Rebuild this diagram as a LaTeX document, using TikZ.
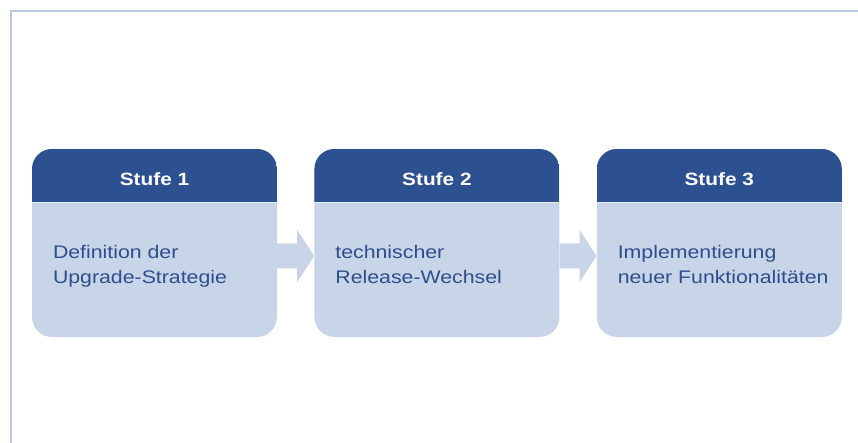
\documentclass[tikz,border=0pt]{standalone}
\usepackage{fontspec}
\setmainfont{Liberation Sans}
\newfontfamily\stagefont[FakeStretch=1.17]{Liberation Sans}
\usepackage{xcolor}
\usetikzlibrary{positioning}
\usetikzlibrary{calc}
\definecolor{headblue}{RGB}{44,80,144}
\definecolor{bodyblue}{RGB}{200,213,232}
\definecolor{textblue}{RGB}{45,78,140}
\definecolor{framegray}{RGB}{184,201,226}
\tikzset{
    stage_box/.style = {rectangle, rounded corners=20pt, fill=bodyblue, minimum width=245pt, minimum height=188pt, inner sep=0pt,
        path picture={
            \fill[headblue, sharp corners] (path picture bounding box.north west) rectangle ([yshift=-53pt]path picture bounding box.north east);
            \draw[white, sharp corners, line width=0.8pt, opacity=0.6] ([yshift=-53.4pt]path picture bounding box.north west) -- ([yshift=-53.4pt]path picture bounding box.north east);
        }},
    head_text/.style = {anchor=base, inner sep=0pt, white, font=\stagefont\bfseries\fontsize{17.8}{21}\selectfont},
    body_text/.style = {anchor=north west, align=left, inner sep=0pt, textblue, font=\stagefont\fontsize{18.2}{24.7}\selectfont},
    step_arrow/.style = {fill=bodyblue},
    frame_line/.style = {draw=framegray, line width=2pt}
}

\begin{document}
\begin{tikzpicture}[x=1pt, y=-1pt]
    \useasboundingbox (0,0) rectangle (858,443);
    \draw[frame_line] (858,11.5) -- (10.5,11.5) -- (10.5,443);

    % the three stages
    \node[stage_box] (stage1) at (154.5,243) {};
    \node[stage_box, right=37pt of stage1] (stage2) {};
    \node[stage_box, right=37pt of stage2] (stage3) {};

    \node[head_text] (head1) at ([yshift=-36.7pt]stage1.north) {Stufe 1};
    \node[head_text] (head2) at ([yshift=-36.7pt]stage2.north) {Stufe 2};
    \node[head_text] (head3) at ([yshift=-36.7pt]stage3.north) {Stufe 3};

    \node[body_text] (body1) at ([xshift=21pt, yshift=-96.4pt]stage1.north west) {Definition der\\Upgrade-Strategie};
    \node[body_text] (body2) at ([xshift=21pt, yshift=-96.4pt]stage2.north west) {technischer\\Release-Wechsel};
    \node[body_text] (body3) at ([xshift=21pt, yshift=-96.4pt]stage3.north west) {Implementierung\\neuer Funktionalitäten};

    % arrows between the stages
    \fill[step_arrow] ($(stage1.east)+(0,0.5)$) -- ++(20,0) -- ++(0,-13.5) -- ($(stage2.west)+(0,13)$) -- ++(-17,26) -- ++(0,-13.5) -- ++(-20,0) -- cycle;
    \fill[step_arrow] ($(stage2.east)+(0,0.5)$) -- ++(20,0) -- ++(0,-13.5) -- ($(stage3.west)+(0,13)$) -- ++(-17,26) -- ++(0,-13.5) -- ++(-20,0) -- cycle;
\end{tikzpicture}
\end{document}
